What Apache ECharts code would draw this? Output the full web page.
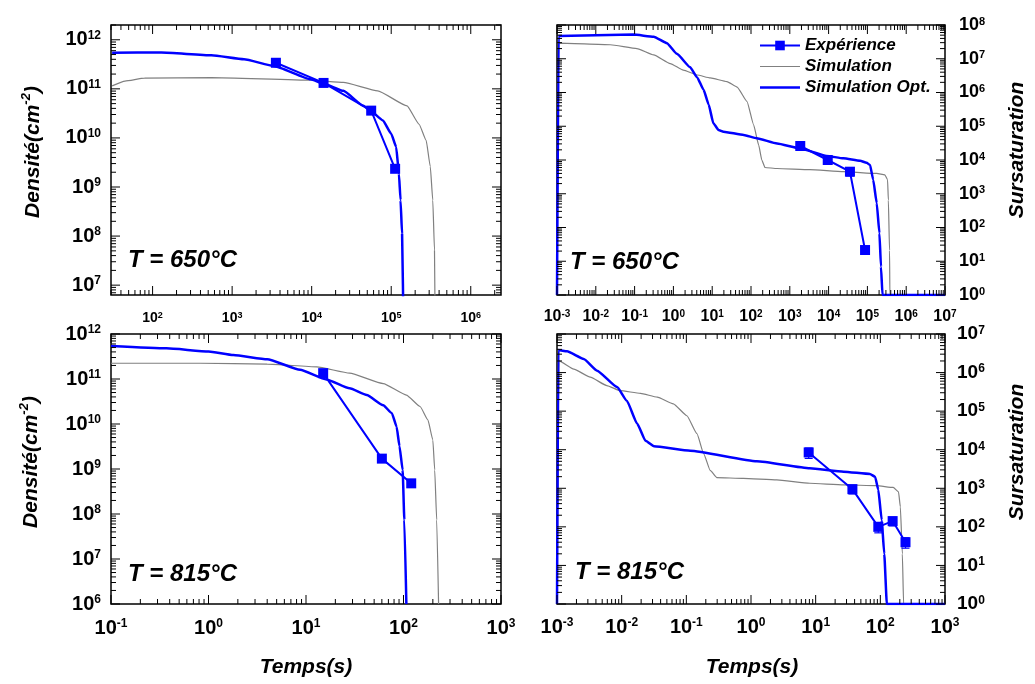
<!DOCTYPE html>
<html><head><meta charset="utf-8">
<script src="https://cdn.jsdelivr.net/npm/echarts@6.0.0/dist/echarts.min.js"></script>
<style>html,body{margin:0;padding:0;background:#fff}#c{width:1035px;height:684px}</style>
</head><body><div id="c"></div>
<script>
// ---------------- DATA ----------------
const legendNames = ['Expérience', 'Simulation', 'Simulation Opt.'];
const panelTitles = ['T = 650°C', 'T = 650°C', 'T = 815°C', 'T = 815°C'];

// Top-left: density, 650°C
const expT_650N = [3550, 14100, 56000, 112000];
const expV_650N = [3.4e11, 1.32e11, 3.6e10, 2.35e9];
const simT_650N = [31, 45, 79, 550, 9800, 25000, 67600, 158000, 224000, 275000, 310000, 333000, 350000, 357000];
const simV_650N = [1.15e11, 1.44e11, 1.65e11, 1.7e11, 1.5e11, 1.35e11, 9.1e10, 4.5e10, 1.9e10, 8.9e9, 2.6e9, 5.4e8, 5.1e7, 1e6];
const optT_650N = [31, 129, 550, 1410, 3350, 9700, 13800, 25000, 44700, 55000, 78700, 100000, 115500, 125000, 131000, 137000, 143000];
const optV_650N = [5.45e11, 5.5e11, 4.83e11, 4.0e11, 2.93e11, 1.57e11, 1.3e11, 9.1e10, 4.5e10, 3.55e10, 2.27e10, 1.22e10, 6.5e9, 1.86e9, 5.4e8, 1.1e8, 1e6];

// Top-right: supersaturation, 650°C
const expT_650S = [1860, 9500, 35500, 87000];
const expV_650S = [26000, 10000, 4500, 21.5];
const expE_650S = [0.2, 0.2, 0.25, 0.25];
const simT_650S = [1e-3, 1.1e-3, 0.0234, 0.115, 0.31, 0.83, 1.8, 4.1, 8.9, 24, 44, 79, 117, 158, 190, 229, 470, 3300, 24000, 174000, 282000, 331000, 347000, 372000, 380000, 1e7];
const simV_650S = [1, 2.9e7, 2.6e7, 2.0e7, 1.3e7, 7.2e6, 4.6e6, 3.3e6, 2.7e6, 2.1e6, 1.45e6, 5.4e5, 1.1e5, 2.75e4, 1.0e4, 6000, 5600, 5200, 4500, 4000, 3600, 2600, 650, 21, 1, 1];
const optT_650S = [1e-3, 1.1e-3, 0.093, 0.31, 0.68, 1.23, 2.7, 4.1, 6.0, 8.1, 10.7, 14.5, 19.5, 65, 141, 470, 1860, 8900, 24000, 65000, 95000, 117000, 141000, 174000, 204000, 224000, 245000, 1e7];
const optV_650S = [1, 4.7e7, 5.2e7, 4.5e7, 2.9e7, 1.4e7, 5.6e6, 2.8e6, 1.2e6, 4.4e5, 1.23e5, 7.8e4, 6.9e4, 5.5e4, 4.4e4, 3.1e4, 2.2e4, 1.32e4, 1.12e4, 9500, 8300, 7100, 2600, 525, 68, 6.9, 1, 1];

// Bottom-left: density, 815°C
const expT_815N = [15, 60, 120];
const expV_815N = [1.35e11, 1.7e9, 4.8e8];
const simT_815N = [0.1, 0.82, 4.0, 12.9, 28, 62, 107, 148, 178, 200, 209, 219, 229];
const simV_815N = [2.24e11, 2.24e11, 2.14e11, 1.86e11, 1.35e11, 7.9e10, 4.4e10, 2.45e10, 1.23e10, 4.4e9, 9.5e8, 7.4e7, 1e6];
const optT_815N = [0.1, 0.37, 1, 1.8, 4.0, 8.7, 16.2, 28, 42, 62, 76, 85, 91, 98, 102, 107];
const optV_815N = [5.4e11, 4.8e11, 4.1e11, 3.4e11, 2.75e11, 1.6e11, 9.8e10, 6.2e10, 4.4e10, 2.6e10, 1.74e10, 8.7e9, 3.2e9, 9.5e8, 7.4e7, 1e6];

// Bottom-right: supersaturation, 815°C
const expT_815S = [7.8, 37, 93, 155, 245];
const expV_815S = [8500, 950, 100, 141, 40];
const expE_815S = [0.3, 0.25, 0.3, 0.25, 0.3];
const simT_815S = [1e-3, 1.07e-3, 1.82e-3, 3.27e-3, 5.9e-3, 9.5e-3, 0.0195, 0.0355, 0.063, 0.102, 0.146, 0.186, 0.234, 0.295, 0.76, 2.5, 8.1, 27, 87, 158, 191, 204, 219, 229, 1000];
const simV_815S = [1, 2.0e6, 1.23e6, 7.6e5, 4.6e5, 3.4e5, 2.9e5, 2.3e5, 1.55e5, 7.6e4, 2.6e4, 7800, 2900, 1900, 1800, 1650, 1350, 1230, 1170, 1050, 810, 330, 20, 1, 1];
const optT_815S = [1e-3, 1.05e-3, 1.43e-3, 2.59e-3, 4.17e-3, 8.5e-3, 0.012, 0.0174, 0.0234, 0.0316, 0.115, 1.23, 8.1, 27, 69, 83, 93, 105, 115, 126, 1000];
const optV_815S = [1, 3.85e6, 3.55e6, 2.24e6, 1.12e6, 4.2e5, 1.86e5, 4.7e4, 1.7e4, 1.23e4, 9400, 5000, 3300, 2700, 2350, 2000, 910, 150, 20, 1, 1];

// axis ranges
const xRange_650N = [30, 2.4e6];
const yRange_650N = [6.3e6, 2e12];
const xRange_650S = [1e-3, 1e7];
const yRange_650S = [1, 1e8];
const xRange_815N = [0.1, 1e3];
const yRange_815N = [1e6, 1e12];
const xRange_815S = [1e-3, 1e3];
const yRange_815S = [1, 1e7];

// ---------------- BUILD ----------------
const FONT = '"Liberation Sans", Arial, Helvetica, sans-serif';
const BLUE = '#0000ff', GRAY = '#808080';
const zip = (a, b) => a.map((v, i) => [v, b[i]]);

function logTicks(r) {
  const majors = [], minors = [];
  const lo = Math.floor(Math.log10(r[0])) - 1, hi = Math.ceil(Math.log10(r[1])) + 1;
  for (let k = lo; k <= hi; k++) {
    const p = Math.pow(10, k);
    if (p >= r[0] * 0.999 && p <= r[1] * 1.001) majors.push(p);
    for (let m = 2; m <= 9; m++) {
      const v = m * p;
      if (v >= r[0] * 0.999 && v <= r[1] * 1.001) minors.push(v);
    }
  }
  return { majors, minors };
}
function supLabel(fs) {
  return {
    formatter: v => '{b|10}{s|' + Math.round(Math.log10(v)) + '}',
    rich: {
      b: { fontSize: fs, fontWeight: 'bold', fontFamily: FONT, color: '#000', lineHeight: fs, verticalAlign: 'bottom', padding: [4, 0, 0, 0] },
      s: { fontSize: Math.round(fs * 0.62), fontWeight: 'bold', fontFamily: FONT, color: '#000', lineHeight: Math.round(fs * 0.62), verticalAlign: 'top' }
    }
  };
}

const panels = [
  { grid: { left: 111, top: 25, width: 390, height: 270 }, xr: xRange_650N, yr: yRange_650N, yPos: 'left', xfs: 14, yfs: 20, xm: 16, ym: 10,
    exp: [expT_650N, expV_650N, null], sim: [simT_650N, simV_650N], opt: [optT_650N, optV_650N], title: panelTitles[0], tpos: [128, 248] },
  { grid: { left: 557, top: 25, width: 388, height: 270 }, xr: xRange_650S, yr: yRange_650S, yPos: 'right', xfs: 16, yfs: 18, xm: 14, ym: 14,
    exp: [expT_650S, expV_650S, expE_650S], sim: [simT_650S, simV_650S], opt: [optT_650S, optV_650S], title: panelTitles[1], tpos: [570, 250] },
  { grid: { left: 111, top: 334, width: 390, height: 270 }, xr: xRange_815N, yr: yRange_815N, yPos: 'left', xfs: 20, yfs: 20, xm: 14, ym: 10,
    exp: [expT_815N, expV_815N, null], sim: [simT_815N, simV_815N], opt: [optT_815N, optV_815N], title: panelTitles[2], tpos: [128, 562] },
  { grid: { left: 557, top: 334, width: 388, height: 270 }, xr: xRange_815S, yr: yRange_815S, yPos: 'right', xfs: 20, yfs: 19, xm: 13, ym: 12,
    exp: [expT_815S, expV_815S, expE_815S], sim: [simT_815S, simV_815S], opt: [optT_815S, optV_815S], title: panelTitles[3], tpos: [575, 560] }
];

const grids = [], xAxes = [], yAxes = [], series = [], graphics = [];

panels.forEach((p, gi) => {
  grids.push(Object.assign({ show: true, borderColor: '#000', borderWidth: 1.5, backgroundColor: 'transparent' }, p.grid));
  const xt = logTicks(p.xr), yt = logTicks(p.yr);
  const axis = (pos, r, fs, margin, vals) => ({
    gridIndex: gi, type: 'log', logBase: 10, min: r[0], max: r[1], position: pos,
    axisLine: { show: false }, splitLine: { show: false }, axisTick: { show: false },
    axisLabel: Object.assign({ show: true, customValues: vals, margin: margin }, supLabel(fs))
  });
  const xi = xAxes.length, yi = yAxes.length;
  xAxes.push(axis('bottom', p.xr, p.xfs, p.xm, xt.majors));
  yAxes.push(axis(p.yPos, p.yr, p.yfs, p.ym, yt.majors));

  // tick marks on all four sides, placed through the panel's log axes
  const xTickData = xt.majors.map(v => [v, p.yr[0], 9]).concat(xt.minors.map(v => [v, p.yr[0], 5]));
  const yTickData = yt.majors.map(v => [p.xr[0], v, 9]).concat(yt.minors.map(v => [p.xr[0], v, 5]));
  const tickSt = { stroke: '#000', lineWidth: 1 };
  series.push({ type: 'custom', xAxisIndex: xi, yAxisIndex: yi, data: xTickData, z: 6, animation: false, silent: true,
    encode: { x: 0, y: 1 }, clip: false,
    renderItem: (params, api) => {
      const cs = params.coordSys;
      const x = api.coord([api.value(0), p.yr[0]])[0];
      const len = api.value(2);
      const b = cs.y + cs.height, t = cs.y;
      return { type: 'group', children: [
        { type: 'line', shape: { x1: x, y1: b, x2: x, y2: b - len }, style: tickSt },
        { type: 'line', shape: { x1: x, y1: t, x2: x, y2: t + len }, style: tickSt }
      ] };
    } });
  series.push({ type: 'custom', xAxisIndex: xi, yAxisIndex: yi, data: yTickData, z: 6, animation: false, silent: true,
    encode: { x: 0, y: 1 }, clip: false,
    renderItem: (params, api) => {
      const cs = params.coordSys;
      const y = api.coord([p.xr[0], api.value(1)])[1];
      const len = api.value(2);
      const l = cs.x, r = cs.x + cs.width;
      return { type: 'group', children: [
        { type: 'line', shape: { x1: l, y1: y, x2: l + len, y2: y }, style: tickSt },
        { type: 'line', shape: { x1: r, y1: y, x2: r - len, y2: y }, style: tickSt }
      ] };
    } });

  series.push({ name: 'Simulation', type: 'line', xAxisIndex: xi, yAxisIndex: yi, data: zip(p.sim[0], p.sim[1]),
    symbol: 'none', smooth: 0.15, smoothMonotone: 'x',
    lineStyle: { color: GRAY, width: 1.2 }, itemStyle: { color: GRAY }, z: 2, animation: false });
  series.push({ name: 'Simulation Opt.', type: 'line', xAxisIndex: xi, yAxisIndex: yi, data: zip(p.opt[0], p.opt[1]),
    symbol: 'none', smooth: 0.15, smoothMonotone: 'x',
    lineStyle: { color: BLUE, width: 2.5 }, itemStyle: { color: BLUE }, z: 3, animation: false });
  if (p.exp[2]) {
    const errData = p.exp[0].map((t, i) => [t, p.exp[1][i] * (1 - p.exp[2][i]), p.exp[1][i] * (1 + p.exp[2][i])]);
    series.push({ type: 'custom', xAxisIndex: xi, yAxisIndex: yi, data: errData, z: 4, animation: false,
      encode: { x: 0, y: [1, 2] },
      renderItem: (params, api) => {
        const lo = api.coord([api.value(0), api.value(1)]);
        const hi = api.coord([api.value(0), api.value(2)]);
        const st = { stroke: BLUE, lineWidth: 1.2 };
        return { type: 'group', children: [
          { type: 'line', shape: { x1: lo[0], y1: lo[1], x2: hi[0], y2: hi[1] }, style: st },
          { type: 'line', shape: { x1: lo[0] - 4, y1: lo[1], x2: lo[0] + 4, y2: lo[1] }, style: st },
          { type: 'line', shape: { x1: hi[0] - 4, y1: hi[1], x2: hi[0] + 4, y2: hi[1] }, style: st }
        ] };
      } });
  }
  series.push({ name: 'Expérience', type: 'line', xAxisIndex: xi, yAxisIndex: yi, data: zip(p.exp[0], p.exp[1]),
    symbol: 'rect', symbolSize: 10, showSymbol: true, lineStyle: { color: BLUE, width: 2 }, itemStyle: { color: BLUE }, z: 5, animation: false });

  graphics.push({ type: 'text', left: p.tpos[0], top: p.tpos[1], z: 10,
    style: { text: p.title, font: 'italic bold 24px ' + FONT, fill: '#000' } });
});

// axis titles
const titleFont = 'italic bold 21px ' + FONT;
const densRich = { a: { fontFamily: FONT, fontStyle: 'italic', fontWeight: 'bold', fontSize: 21, fill: '#000', lineHeight: 24, verticalAlign: 'bottom' },
                   s: { fontFamily: FONT, fontStyle: 'italic', fontWeight: 'bold', fontSize: 13, fill: '#000', lineHeight: 13, verticalAlign: 'top' } };
[[32, 152], [30, 462]].forEach(c => graphics.push({ type: 'text', x: c[0], y: c[1], rotation: Math.PI / 2, z: 10,
  style: { text: '{a|Densité(cm}{s|-2}{a|)}', rich: densRich, align: 'center', verticalAlign: 'middle' } }));
[[1017, 150], [1017, 452]].forEach(c => graphics.push({ type: 'text', x: c[0], y: c[1], rotation: Math.PI / 2, z: 10,
  style: { text: 'Sursaturation', font: titleFont, fill: '#000', align: 'center', verticalAlign: 'middle' } }));
[[306, 667], [752, 667]].forEach(c => graphics.push({ type: 'text', x: c[0], y: c[1], z: 10,
  style: { text: 'Temps(s)', font: titleFont, fill: '#000', align: 'center', verticalAlign: 'middle' } }));

const chart = echarts.init(document.getElementById('c'), null, { renderer: 'canvas' });
chart.setOption({
  animation: false,
  backgroundColor: '#fff',
  grid: grids,
  xAxis: xAxes,
  yAxis: yAxes,
  legend: {
    data: [
      { name: legendNames[0] },
      { name: legendNames[1], icon: 'path://M0,0H40V1.2H0Z', itemStyle: { color: GRAY } },
      { name: legendNames[2], icon: 'path://M0,0H40V2.5H0Z', itemStyle: { color: BLUE } }
    ],
    orient: 'vertical', left: 754, top: 32, itemWidth: 40, itemHeight: 12, itemGap: 4,
    selectedMode: false,
    textStyle: { fontFamily: FONT, fontStyle: 'italic', fontWeight: 'bold', fontSize: 17, color: '#000' }
  },
  series: series,
  graphic: graphics
});
</script>
</body></html>
